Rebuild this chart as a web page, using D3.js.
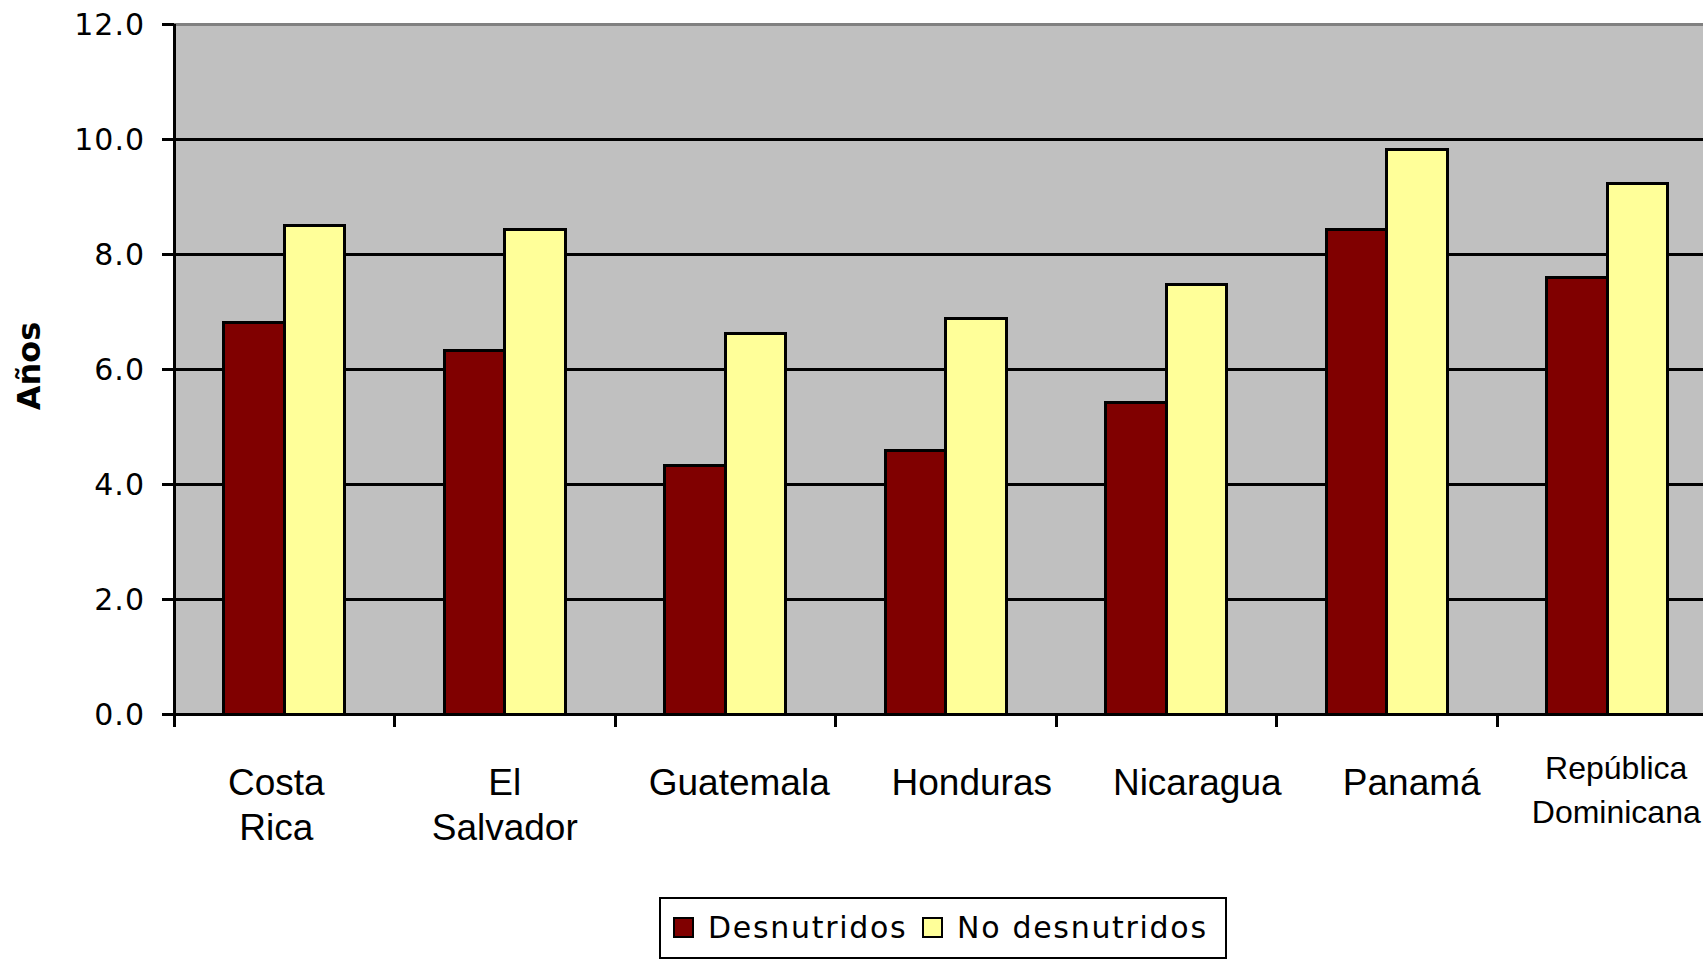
<!DOCTYPE html>
<html>
<head>
<meta charset="utf-8">
<script src="https://cdn.jsdelivr.net/npm/d3@7"></script>
<style>
  html, body { margin: 0; padding: 0; background: #ffffff; overflow: hidden; }
  svg { display: block; }
</style>
</head>
<body>
<svg id="chart" width="1703" height="960"></svg>
<script>
// Años de escolaridad promedio según estado nutricional
const categories = ["Costa Rica", "El Salvador", "Guatemala", "Honduras", "Nicaragua", "Panamá", "República Dominicana"];
const categoryLines = [["Costa", "Rica"], ["El", "Salvador"], ["Guatemala"], ["Honduras"], ["Nicaragua"], ["Panamá"], ["República", "Dominicana"]];
const seriesNames = ["Desnutridos", "No desnutridos"];
const desnutridos = [6.81, 6.32, 4.33, 4.58, 5.42, 8.43, 7.60];
const noDesnutridos = [8.49, 8.42, 6.62, 6.87, 7.47, 9.82, 9.22];
const yTicks = [0, 2, 4, 6, 8, 10, 12];
const yTitle = "Años";

// layout
const plotLeft = 174, plotTop = 24, plotBottom = 714;
const bandWidth = 220.5;
const gapRatio = 1.64;            // gap between groups relative to one bar
const labelShift = [-8, 0, 14, 26, 31, 25, 9];
const colors = ["#800000", "#FFFF99"];
const pixelFont = "'DejaVu Sans', sans-serif";
const labelFont = "'Liberation Sans', Arial, sans-serif";

const svg = d3.select("#chart");

const x = d3.scaleBand()
  .domain(categories)
  .range([plotLeft, plotLeft + bandWidth * categories.length])
  .padding(0);

const y = d3.scaleLinear().domain([0, 12]).range([plotBottom, plotTop]);

const barW = x.bandwidth() / (2 + gapRatio);
const inner = d3.scaleBand().domain(seriesNames)
  .range([barW * gapRatio / 2, barW * gapRatio / 2 + 2 * barW]).padding(0);

const plotRight = x.range()[1];

// plot area
svg.append("rect")
  .attr("x", plotLeft).attr("y", plotTop)
  .attr("width", plotRight - plotLeft).attr("height", plotBottom - plotTop)
  .attr("fill", "#C0C0C0");

svg.append("line")
  .attr("x1", plotLeft).attr("x2", plotRight)
  .attr("y1", plotTop).attr("y2", plotTop)
  .attr("stroke", "#808080").attr("stroke-width", 3)
  .attr("shape-rendering", "crispEdges");

// gridlines
svg.append("g").selectAll("line")
  .data(yTicks.filter(d => d > 0 && d < 12))
  .join("line")
  .attr("x1", plotLeft).attr("x2", plotRight)
  .attr("y1", d => y(d)).attr("y2", d => y(d))
  .attr("stroke", "#000").attr("stroke-width", 3)
  .attr("shape-rendering", "crispEdges");

// bars
const rows = categories.map((c, i) => ({ cat: c, values: [desnutridos[i], noDesnutridos[i]] }));
const groups = svg.append("g").selectAll("g")
  .data(rows)
  .join("g")
  .attr("transform", d => `translate(${x(d.cat)},0)`);

groups.selectAll("rect")
  .data(d => d.values.map((v, k) => ({ name: seriesNames[k], value: v, k })))
  .join("rect")
  .attr("x", d => inner(d.name))
  .attr("width", barW)
  .attr("y", d => y(d.value))
  .attr("height", d => y(0) - y(d.value))
  .attr("fill", d => colors[d.k])
  .attr("stroke", "#000")
  .attr("stroke-width", 3)
  .attr("shape-rendering", "crispEdges");

// y axis
const yAxis = d3.axisLeft(y)
  .tickValues(yTicks)
  .tickSize(12)
  .tickSizeOuter(0)
  .tickPadding(17)
  .tickFormat(d3.format(".1f"));

const gy = svg.append("g")
  .attr("transform", `translate(${plotLeft},0)`)
  .call(yAxis);
gy.select(".domain").remove();
gy.selectAll(".tick line")
  .attr("stroke", "#000").attr("stroke-width", 3)
  .attr("shape-rendering", "crispEdges");
gy.selectAll(".tick text")
  .attr("font-family", pixelFont)
  .attr("font-size", 30)
  .attr("letter-spacing", 1)
  .attr("fill", "#000")
  .attr("dy", "0.36em");

svg.append("line")
  .attr("x1", plotLeft).attr("x2", plotLeft)
  .attr("y1", plotTop).attr("y2", plotBottom + 13)
  .attr("stroke", "#000").attr("stroke-width", 3)
  .attr("shape-rendering", "crispEdges");

// x axis
svg.append("line")
  .attr("x1", plotLeft).attr("x2", plotRight)
  .attr("y1", plotBottom).attr("y2", plotBottom)
  .attr("stroke", "#000").attr("stroke-width", 3)
  .attr("shape-rendering", "crispEdges");

svg.append("g").selectAll("line")
  .data(categories)
  .join("line")
  .attr("x1", d => x(d)).attr("x2", d => x(d))
  .attr("y1", plotBottom).attr("y2", plotBottom + 13)
  .attr("stroke", "#000").attr("stroke-width", 3)
  .attr("shape-rendering", "crispEdges");

// category labels
const labels = svg.append("g").selectAll("text")
  .data(categories)
  .join("text")
  .attr("font-family", labelFont)
  .attr("text-anchor", "middle")
  .attr("fill", "#000")
  .attr("font-size", (d, i) => categoryLines[i].length > 1 && categoryLines[i][1].length > 8 ? 32 : 37)
  .attr("transform", (d, i) => `translate(${x(d) + x.bandwidth() / 2 + labelShift[i]},0)`);

labels.each(function (d, i) {
  const lines = categoryLines[i];
  const small = lines.length > 1 && lines[1].length > 8;
  const base = small ? 779 : 795;
  const step = small ? 44 : 45;
  d3.select(this).selectAll("tspan")
    .data(lines)
    .join("tspan")
    .attr("x", 0)
    .attr("y", (l, j) => base + j * step)
    .text(l => l);
});

// y axis title
svg.append("text")
  .attr("transform", "translate(40,366) rotate(-90)")
  .attr("text-anchor", "middle")
  .attr("font-family", pixelFont)
  .attr("font-weight", "bold")
  .attr("font-size", 32)
  .attr("fill", "#000")
  .text(yTitle);

// legend
const legend = svg.append("g");
legend.append("rect")
  .attr("x", 660).attr("y", 898)
  .attr("width", 566).attr("height", 60)
  .attr("fill", "#fff").attr("stroke", "#000").attr("stroke-width", 2.5)
  .attr("shape-rendering", "crispEdges");

const legendX = [674, 923];
const legendItems = legend.selectAll("g.item")
  .data(seriesNames)
  .join("g")
  .attr("class", "item")
  .attr("transform", (d, i) => `translate(${legendX[i]},918)`);

legendItems.append("rect")
  .attr("width", 19).attr("height", 19)
  .attr("fill", (d, i) => colors[i])
  .attr("stroke", "#000").attr("stroke-width", 2.5)
  .attr("shape-rendering", "crispEdges");

legendItems.append("text")
  .attr("x", 34).attr("y", 20)
  .attr("font-family", pixelFont)
  .attr("font-size", 30)
  .attr("letter-spacing", 1.7)
  .attr("fill", "#000")
  .text(d => d);
</script>
</body>
</html>
